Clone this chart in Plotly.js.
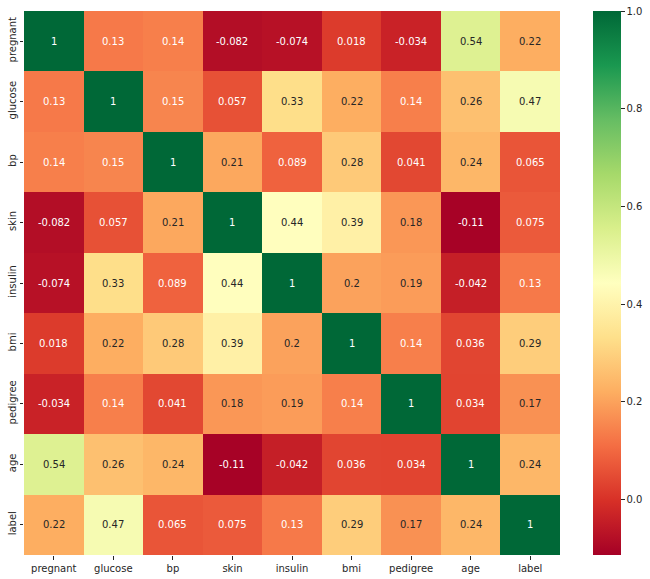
<!DOCTYPE html>
<html><head><meta charset="utf-8">
<script src="https://cdn.plot.ly/plotly-3.0.1.min.js"></script>
<style>html,body{margin:0;padding:0;background:#fff}</style></head>
<body><div id="chart" style="width:650px;height:579px"></div>
<script>
const categories = ["pregnant","glucose","bp","skin","insulin","bmi","pedigree","age","label"];
const pregnant = ["1","0.13","0.14","-0.082","-0.074","0.018","-0.034","0.54","0.22"];
const glucose  = ["0.13","1","0.15","0.057","0.33","0.22","0.14","0.26","0.47"];
const bp       = ["0.14","0.15","1","0.21","0.089","0.28","0.041","0.24","0.065"];
const skin     = ["-0.082","0.057","0.21","1","0.44","0.39","0.18","-0.11","0.075"];
const insulin  = ["-0.074","0.33","0.089","0.44","1","0.2","0.19","-0.042","0.13"];
const bmi      = ["0.018","0.22","0.28","0.39","0.2","1","0.14","0.036","0.29"];
const pedigree = ["-0.034","0.14","0.041","0.18","0.19","0.14","1","0.034","0.17"];
const age      = ["0.54","0.26","0.24","-0.11","-0.042","0.036","0.034","1","0.24"];
const label    = ["0.22","0.47","0.065","0.075","0.13","0.29","0.17","0.24","1"];
const rows = [pregnant,glucose,bp,skin,insulin,bmi,pedigree,age,label];
const colorTicks = [0,0.2,0.4,0.6,0.8,1];
const stops = ["#a50026","#d73027","#f46d43","#fdae61","#fee08b","#ffffbf","#d9ef8b","#a6d96a","#66bd63","#1a9850","#006837"];
const colorscale = stops.map((c,i)=>[i/(stops.length-1),c]);
const z = rows.map(r=>r.map(Number));
const annotations = [];
rows.forEach((r,i)=>r.forEach((t,j)=>{
  const v = Number(t);
  annotations.push({x:categories[j],y:categories[i],xref:'x',yref:'y',text:t,showarrow:false,
    font:{family:'DejaVu Sans',size:10,color:(v<0.16||v>0.8)?'#ffffff':'#262626'}});
}));
const tickStyle = {ticks:'outside',ticklen:3.5,tickwidth:1,tickcolor:'#262626',showgrid:false,zeroline:false,showline:false,
  tickfont:{family:'DejaVu Sans',size:10,color:'#262626'}};
Plotly.newPlot('chart',[{type:'heatmap',x:categories,y:categories,z:z,zmin:-0.114,zmax:1,colorscale:colorscale,
  xgap:0,ygap:0,hoverongaps:false,
  colorbar:{thickness:28,thicknessmode:'pixels',len:1,lenmode:'fraction',x:1.0616,xanchor:'left',xpad:0,y:0.5,yanchor:'middle',ypad:0,
    outlinewidth:0,tickvals:colorTicks,ticktext:colorTicks.map(v=>v.toFixed(1)),ticks:'outside',ticklen:4,tickwidth:1,tickcolor:'#262626',
    tickfont:{family:'DejaVu Sans',size:10,color:'#262626'}}}],
 {width:650,height:579,margin:{l:24,r:90,t:11,b:24,pad:0,autoexpand:false},paper_bgcolor:'#fff',plot_bgcolor:'#fff',
  xaxis:Object.assign({type:'category',tickangle:0,automargin:false},tickStyle),
  yaxis:Object.assign({type:'category',autorange:'reversed',tickangle:-90,automargin:false},tickStyle),
  annotations:annotations},{displayModeBar:false});
</script></body></html>
